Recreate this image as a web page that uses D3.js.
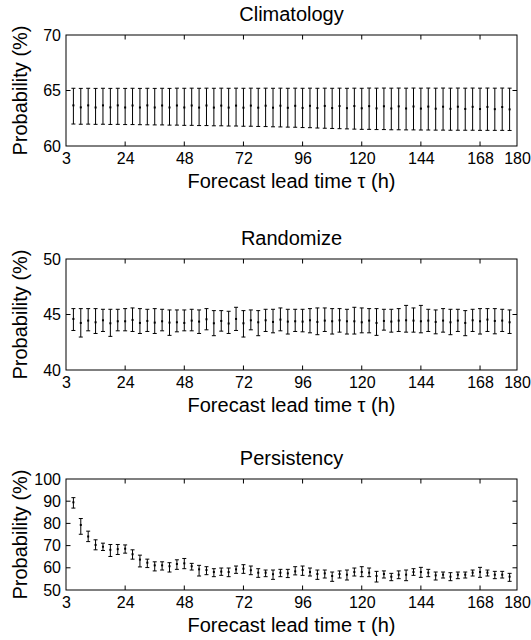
<!DOCTYPE html>
<html>
<head>
<meta charset="utf-8">
<script src="https://cdn.jsdelivr.net/npm/d3@7"></script>
<style>
  body { margin: 0; background: #fff; }
  svg { display: block; font-family: "Liberation Sans", Arial, Helvetica, sans-serif; }
</style>
</head>
<body>
<svg width="531" height="640"></svg>
<script>
// lead times (h)
const leadTimes = [3, 6, 9, 12, 15, 18, 21, 24, 27, 30, 33, 36, 39, 42, 45, 48, 51, 54, 57, 60,
    63, 66, 69, 72, 75, 78, 81, 84, 87, 90, 93, 96, 99, 102, 105, 108, 111, 114, 117, 120,
    123, 126, 129, 132, 135, 138, 141, 144, 147, 150, 153, 156, 159, 162, 165, 168, 171, 174, 177, 180];

const xTickValues = [0, 24, 48, 72, 96, 120, 144, 168, 183];
const xTickLabels = ['3', '24', '48', '72', '96', '120', '144', '168', '180'];

// Climatology
const climMean = [63.66, 63.48, 63.66, 63.47, 63.66, 63.48, 63.66, 63.47, 63.65, 63.47,
    63.66, 63.47, 63.65, 63.47, 63.65, 63.47, 63.65, 63.46, 63.65, 63.46,
    63.64, 63.46, 63.64, 63.45, 63.64, 63.45, 63.63, 63.45, 63.63, 63.44,
    63.62, 63.43, 63.62, 63.42, 63.61, 63.42, 63.60, 63.41, 63.60, 63.40,
    63.59, 63.39, 63.58, 63.38, 63.57, 63.38, 63.56, 63.37, 63.55, 63.36,
    63.54, 63.35, 63.54, 63.34, 63.53, 63.33, 63.52, 63.32, 63.51, 63.30];
const climLow = [61.98, 61.96, 61.97, 61.95, 61.96, 61.94, 61.95, 61.93, 61.93, 61.92,
    61.91, 61.90, 61.90, 61.88, 61.88, 61.86, 61.86, 61.84, 61.84, 61.82,
    61.82, 61.80, 61.80, 61.78, 61.78, 61.76, 61.75, 61.73, 61.72, 61.70,
    61.69, 61.66, 61.65, 61.62, 61.60, 61.58, 61.56, 61.54, 61.52, 61.50,
    61.50, 61.48, 61.48, 61.46, 61.46, 61.45, 61.45, 61.44, 61.44, 61.43,
    61.43, 61.42, 61.42, 61.42, 61.42, 61.41, 61.41, 61.41, 61.41, 61.40];
const climHigh = [65.20, 65.19, 65.20, 65.19, 65.20, 65.19, 65.20, 65.19, 65.20, 65.19,
    65.20, 65.19, 65.20, 65.19, 65.21, 65.20, 65.21, 65.20, 65.21, 65.20,
    65.21, 65.20, 65.21, 65.20, 65.21, 65.20, 65.21, 65.20, 65.21, 65.20,
    65.21, 65.20, 65.21, 65.20, 65.21, 65.20, 65.21, 65.20, 65.21, 65.20,
    65.22, 65.21, 65.22, 65.21, 65.22, 65.21, 65.22, 65.21, 65.22, 65.21,
    65.22, 65.21, 65.22, 65.21, 65.22, 65.21, 65.22, 65.21, 65.22, 65.21];

// Randomize
const randMean = [44.60, 44.24, 44.45, 44.30, 44.48, 44.21, 44.39, 44.39, 44.51, 44.24,
    44.42, 44.27, 44.39, 44.27, 44.30, 44.24, 44.45, 44.36, 44.57, 44.21,
    44.42, 44.19, 44.60, 44.21, 44.48, 44.30, 44.48, 44.33, 44.54, 44.36,
    44.39, 44.36, 44.48, 44.33, 44.45, 44.39, 44.48, 44.39, 44.39, 44.30,
    44.45, 44.24, 44.42, 44.36, 44.45, 44.48, 44.45, 44.39, 44.45, 44.33,
    44.45, 44.30, 44.45, 44.24, 44.48, 44.39, 44.54, 44.42, 44.45, 44.30];
const randLow = [43.56, 42.97, 43.53, 43.29, 43.47, 43.03, 43.53, 43.53, 43.47, 43.29,
    43.47, 43.29, 43.53, 43.12, 43.44, 43.53, 43.53, 43.29, 43.62, 43.09,
    43.50, 43.29, 43.56, 42.97, 43.62, 43.09, 43.47, 43.35, 43.53, 43.24,
    43.47, 43.44, 43.35, 43.18, 43.47, 43.24, 43.41, 43.24, 43.24, 43.35,
    43.35, 43.12, 43.59, 43.41, 43.47, 43.41, 43.41, 43.35, 43.47, 43.26,
    43.41, 43.18, 43.47, 43.09, 43.47, 43.24, 43.47, 43.26, 43.47, 43.29];
const randHigh = [45.53, 45.53, 45.53, 45.53, 45.47, 45.47, 45.47, 45.53, 45.59, 45.53,
    45.47, 45.53, 45.47, 45.41, 45.41, 45.41, 45.47, 45.41, 45.53, 45.35,
    45.35, 45.29, 45.65, 45.35, 45.41, 45.35, 45.47, 45.47, 45.59, 45.47,
    45.47, 45.47, 45.53, 45.59, 45.59, 45.53, 45.53, 45.47, 45.65, 45.59,
    45.53, 45.53, 45.47, 45.47, 45.53, 45.82, 45.59, 45.82, 45.47, 45.41,
    45.53, 45.47, 45.47, 45.35, 45.47, 45.53, 45.53, 45.53, 45.47, 45.41];

// Persistency
const persMean = [89.5, 79.3, 74.1, 70.3, 69.5, 68.1, 68.4, 68.6, 66.1, 63.7,
    62.3, 61.1, 61.1, 60.7, 61.7, 62.0, 60.7, 59.3, 59.0, 58.1,
    58.3, 58.1, 59.3, 59.6, 58.9, 57.8, 57.8, 57.1, 57.8, 57.5,
    58.4, 59.0, 58.1, 57.2, 57.5, 56.3, 57.2, 56.9, 58.1, 58.1,
    57.8, 56.3, 57.2, 56.0, 56.9, 56.9, 58.1, 58.1, 57.8, 56.6,
    56.9, 56.0, 56.9, 56.9, 57.8, 58.1, 57.8, 56.9, 56.9, 56.0];
const persLow = [86.9, 75.1, 71.8, 68.1, 67.8, 65.1, 66.0, 66.6, 63.9, 60.4,
    60.1, 58.6, 59.0, 58.1, 59.3, 59.6, 59.0, 56.3, 56.9, 56.0,
    56.6, 56.0, 57.5, 57.5, 56.9, 55.7, 56.0, 54.8, 56.0, 55.6,
    56.8, 56.6, 56.3, 54.8, 55.4, 53.9, 55.4, 54.5, 56.3, 56.0,
    56.0, 53.6, 55.4, 54.2, 55.1, 54.2, 56.6, 55.7, 56.0, 54.5,
    55.4, 54.2, 55.1, 55.4, 56.3, 55.7, 56.3, 55.1, 55.4, 53.9];
const persHigh = [91.6, 82.2, 76.5, 72.6, 71.1, 70.5, 70.5, 70.3, 68.1, 65.7,
    63.9, 62.7, 62.7, 62.3, 63.6, 64.2, 62.0, 61.1, 60.5, 59.6,
    59.9, 59.9, 60.8, 61.4, 60.8, 59.6, 59.0, 59.0, 59.3, 59.3,
    60.5, 60.8, 59.9, 59.0, 59.0, 58.1, 58.6, 59.0, 59.9, 60.5,
    59.9, 58.4, 58.6, 57.5, 58.6, 59.0, 59.6, 60.2, 59.3, 58.1,
    58.1, 57.8, 58.1, 58.1, 59.0, 60.2, 59.0, 58.4, 58.4, 57.5];

const panels = [
    { title: 'Climatology', top: 35, yDomain: [60, 70], yTicks: [60, 65, 70], mean: climMean, low: climLow, high: climHigh },
    { title: 'Randomize', top: 259, yDomain: [40, 50], yTicks: [40, 45, 50], mean: randMean, low: randLow, high: randHigh },
    { title: 'Persistency', top: 479, yDomain: [50, 100], yTicks: [50, 60, 70, 80, 90, 100], mean: persMean, low: persLow, high: persHigh },
];

const left = 66;
const right = 517;
const plotHeight = 111;
const tickLen = 4.5;
const capHalf = 2;

const svg = d3.select('svg');

const x = d3.scaleLinear().domain([0, 183]).range([left, right]);

panels.forEach(p => {
    const y = d3.scaleLinear().domain(p.yDomain).range([p.top + plotHeight, p.top]);
    const g = svg.append('g');
    const bottom = p.top + plotHeight;

    // x axis labels (tick values sit on the frame ends)
    const xAxis = d3.axisBottom(x)
        .tickValues(xTickValues)
        .tickFormat((d, i) => xTickLabels[i])
        .tickSize(0)
        .tickPadding(7);
    const gx = g.append('g').attr('transform', `translate(0,${bottom})`).call(xAxis);
    gx.select('.domain').remove();
    gx.selectAll('text').attr('font-size', 16).attr('font-family', null).attr('fill', '#000');

    const yAxis = d3.axisLeft(y).tickValues(p.yTicks).tickSize(0).tickPadding(5);
    const gy = g.append('g').attr('transform', `translate(${left},0)`).call(yAxis);
    gy.select('.domain').remove();
    gy.selectAll('text').attr('font-size', 16).attr('font-family', null).attr('fill', '#000');

    // inward ticks, mirrored on both sides
    const innerX = xTickValues.slice(1, -1);
    g.selectAll('.xt-b').data(innerX).enter().append('line')
        .attr('x1', d => x(d)).attr('x2', d => x(d))
        .attr('y1', bottom).attr('y2', bottom - tickLen)
        .attr('stroke', '#000');
    g.selectAll('.xt-t').data(innerX).enter().append('line')
        .attr('x1', d => x(d)).attr('x2', d => x(d))
        .attr('y1', p.top).attr('y2', p.top + tickLen)
        .attr('stroke', '#000');
    const innerY = p.yTicks.slice(1, -1);
    g.selectAll('.yt-l').data(innerY).enter().append('line')
        .attr('x1', left).attr('x2', left + tickLen)
        .attr('y1', d => y(d)).attr('y2', d => y(d))
        .attr('stroke', '#000');
    g.selectAll('.yt-r').data(innerY).enter().append('line')
        .attr('x1', right).attr('x2', right - tickLen)
        .attr('y1', d => y(d)).attr('y2', d => y(d))
        .attr('stroke', '#000');

    // frame
    g.append('rect')
        .attr('x', left).attr('y', p.top)
        .attr('width', right - left).attr('height', plotHeight)
        .attr('fill', 'none').attr('stroke', '#000').attr('stroke-width', 1);

    // error bars
    const bars = g.selectAll('.bar').data(leadTimes).enter().append('g');
    bars.append('line')
        .attr('x1', (d, i) => x(d)).attr('x2', (d, i) => x(d))
        .attr('y1', (d, i) => y(p.high[i])).attr('y2', (d, i) => y(p.low[i]))
        .attr('stroke', '#000');
    bars.append('line')
        .attr('x1', d => x(d) - capHalf).attr('x2', d => x(d) + capHalf)
        .attr('y1', (d, i) => y(p.high[i])).attr('y2', (d, i) => y(p.high[i]))
        .attr('stroke', '#000');
    bars.append('line')
        .attr('x1', d => x(d) - capHalf).attr('x2', d => x(d) + capHalf)
        .attr('y1', (d, i) => y(p.low[i])).attr('y2', (d, i) => y(p.low[i]))
        .attr('stroke', '#000');
    bars.append('rect')
        .attr('x', d => x(d) - 1).attr('y', (d, i) => y(p.mean[i]) - 1)
        .attr('width', 2).attr('height', 2)
        .attr('fill', '#000');

    // title and axis labels
    g.append('text')
        .attr('x', (left + right) / 2).attr('y', p.top - 14)
        .attr('text-anchor', 'middle').attr('font-size', 20)
        .text(p.title);
    g.append('text')
        .attr('x', (left + right) / 2).attr('y', bottom + 42)
        .attr('text-anchor', 'middle').attr('font-size', 20)
        .text('Forecast lead time τ (h)');
    g.append('text')
        .attr('transform', `translate(27,${p.top + plotHeight / 2}) rotate(-90)`)
        .attr('text-anchor', 'middle').attr('font-size', 20)
        .text('Probability (%)');
});
</script>
</body>
</html>
